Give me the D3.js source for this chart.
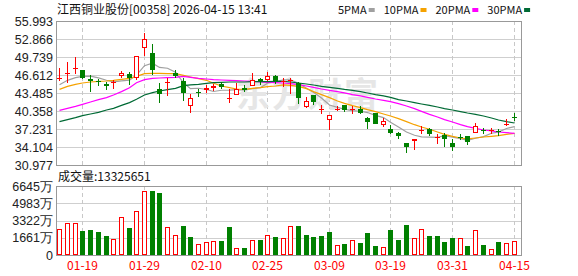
<!DOCTYPE html>
<html>
<head>
<meta charset="utf-8">
<script src="https://cdn.jsdelivr.net/npm/d3@7"></script>
<style>
  body { margin: 0; background: #fff; }
</style>
</head>
<body>
<div id="chart"></div>
<script>
// ---- data ----
const dates = [
  "01-14","01-15","01-16","01-19","01-20","01-21","01-22","01-23","01-26","01-27",
  "01-28","01-29","01-30","02-02","02-03","02-04","02-05","02-06","02-09","02-10",
  "02-11","02-12","02-13","02-19","02-20","02-23","02-24","02-25","02-26","02-27",
  "03-02","03-03","03-04","03-05","03-06","03-09","03-10","03-11","03-12","03-13",
  "03-16","03-17","03-18","03-19","03-20","03-23","03-24","03-25","03-26","03-27",
  "03-30","03-31","04-01","04-02","04-07","04-08","04-09","04-10","04-14","04-15"
];
const tickDates = ["01-19","01-29","02-10","02-25","03-09","03-19","03-31","04-15"];

const opens = [
  46.05,46.85,47.70,47.48,45.92,45.57,45.11,45.16,46.38,46.79,
  46.03,51.24,50.43,44.12,45.16,47.02,45.57,41.17,43.72,44.07,
  44.41,45.11,42.39,43.08,44.36,44.64,45.92,45.80,46.44,45.45,
  45.63,45.28,41.11,43.14,40.60,38.74,40.57,41.34,40.47,40.65,
  39.20,39.95,37.93,37.29,36.59,34.80,35.15,37.06,37.17,35.80,
  36.25,34.80,35.90,36.02,36.48,36.98,36.90,36.92,37.93,39.40
];
const highs = [
  47.77,48.87,49.74,47.55,46.61,45.92,45.34,45.69,47.31,47.19,
  49.90,53.91,51.99,45.28,46.03,47.48,46.03,43.25,44.12,44.88,
  45.11,45.45,44.12,45.28,44.88,46.90,46.15,47.08,46.61,46.03,
  46.03,45.40,42.73,43.20,41.34,39.65,41.23,41.40,41.23,41.23,
  39.37,40.07,39.09,37.87,36.77,34.80,35.55,37.69,37.46,36.31,
  36.48,35.55,36.31,36.02,38.27,37.35,37.40,37.29,38.91,39.95
];
const lows = [
  45.57,45.28,46.73,45.86,43.72,44.64,43.95,44.24,46.15,44.88,
  45.69,49.91,46.55,41.81,42.96,46.15,42.10,40.07,42.85,43.54,
  43.83,44.12,41.81,43.08,43.72,44.64,44.88,45.51,44.99,44.53,
  43.25,41.63,40.94,41.40,39.90,37.06,40.36,40.24,39.78,39.90,
  37.29,38.16,37.58,36.42,35.55,33.12,33.64,36.42,36.02,34.68,
  34.10,33.41,35.26,34.39,36.48,36.31,36.31,35.96,37.69,38.62
];
const closes = [
  46.15,46.92,47.78,46.03,45.57,45.40,44.64,45.40,46.96,46.15,
  49.85,52.81,47.48,43.37,45.40,46.38,43.54,42.56,43.66,44.30,
  44.70,44.59,42.62,44.12,44.01,45.80,45.57,46.38,45.57,45.60,
  45.72,42.68,42.10,41.92,40.65,39.60,40.66,40.47,40.76,40.07,
  38.51,38.16,38.62,36.59,36.02,34.10,35.44,37.12,36.42,35.88,
  35.55,34.10,35.83,34.97,37.69,36.94,37.00,36.88,38.10,39.30
];
const prevClose0 = 45.60;

// volume in 万 shares
const volumes = [
  2475,3080,3080,2310,2410,2215,1830,1510,3630,2600,
  4210,6135,6165,5970,2670,1900,2790,1735,1030,1250,
  1320,1350,2700,645,675,1415,1445,1900,1735,1610,
  2765,2790,1925,1735,1830,2215,935,1060,1415,1155,
  2120,865,740,2410,1445,2890,1610,2475,1830,1830,
  1250,1640,1610,865,2380,935,550,1250,1155,1333
];

const ma5 = [
  44.93,45.69,46.15,46.38,46.40,46.10,45.70,45.41,45.59,45.71,
  46.60,48.23,48.65,47.93,47.78,47.09,45.23,44.25,44.31,44.09,
  43.75,43.96,43.97,44.07,44.01,44.23,44.42,45.18,45.47,45.78,
  45.77,45.19,44.33,43.60,42.61,41.39,40.99,40.66,40.43,40.31,
  40.09,39.59,39.22,38.39,37.58,36.70,36.15,35.85,35.82,35.79,
  36.08,35.81,35.56,35.27,35.63,35.91,36.49,36.70,37.32,37.64
];
const ma10 = [
  44.12,44.64,44.99,45.22,45.40,45.51,45.57,45.69,45.86,46.03,
  46.38,46.84,46.90,46.90,46.84,46.84,46.55,46.27,45.98,45.69,
  45.17,44.70,44.41,44.18,44.12,44.30,44.41,44.59,44.70,44.88,
  44.82,44.64,44.24,43.72,43.20,42.68,42.10,41.69,41.29,40.94,
  40.59,40.24,39.84,39.49,39.03,38.51,37.98,37.58,37.18,36.71,
  36.31,35.96,35.67,35.50,35.67,35.84,35.96,36.08,36.31,36.48
];
const ma20 = [
  40.47,40.82,41.17,41.52,41.92,42.33,42.68,43.14,43.72,44.41,
  45.28,45.80,46.03,46.09,46.15,46.21,46.38,46.21,46.03,45.92,
  45.80,45.74,45.69,45.63,45.57,45.51,45.40,45.34,45.28,45.22,
  45.11,44.93,44.70,44.47,44.18,43.95,43.72,43.50,43.20,42.97,
  42.73,42.44,42.21,41.98,41.63,41.23,40.76,40.30,39.78,39.32,
  38.85,38.45,37.99,37.64,37.35,37.06,36.89,36.71,36.59,36.48
];
const ma30 = [
  38.51,38.85,39.20,39.55,39.84,40.13,40.53,40.82,41.34,41.81,
  42.39,43.14,43.54,43.83,44.07,44.30,44.76,44.88,44.99,45.17,
  45.28,45.34,45.40,45.40,45.40,45.45,45.45,45.45,45.51,45.51,
  45.40,45.22,45.05,44.88,44.64,44.47,44.30,44.12,43.95,43.72,
  43.49,43.20,42.97,42.73,42.33,42.10,41.81,41.58,41.34,41.05,
  40.76,40.53,40.24,40.01,39.78,39.49,39.14,38.80,38.51,38.27
];

const priceTicks = ["55.993","52.866","49.739","46.612","43.485","40.358","37.231","34.104","30.977"];
const volTicks = [6645, 4983, 3322, 1661, 0];

const title = "江西铜业股份[00358] 2026-04-15 13:41";
const volTitle = "成交量:13325651";
const maNames = ["5PMA", "10PMA", "20PMA", "30PMA"];
const maColors = ["#a0a0a0", "#f5a200", "#ff00ff", "#006a35"];

// ---- layout ----
const width = 578, height = 276;
const left = 56, right = 522;
const pTop = 21, pBot = 165, vTop = 186, vBot = 255;
const RED = "#ff0000", GREEN = "#008000";
const cjk = "'Noto Sans CJK SC', sans-serif";
const latin = "'Liberation Sans', Arial, sans-serif";

const svg = d3.select("#chart").append("svg")
  .attr("width", width).attr("height", height)
  .style("display", "block")
  .style("background", "#fff");

const x = d3.scaleBand().domain(dates).range([56, 518])
  .paddingInner(0.35).paddingOuter(0.175);
const bw = Math.round(x.bandwidth());
const bx = d => Math.round(x(d));
const cx = d => bx(d) + Math.floor(bw / 2) + 0.5;

const y = d3.scaleLinear()
  .domain([+priceTicks[priceTicks.length - 1], +priceTicks[0]])
  .range([pBot, pTop]);
const yv = d3.scaleLinear().domain([0, volTicks[0]]).range([vBot, vTop]);

const py = v => Math.round(y(v));

// ---- grid ----
const grid = svg.append("g");
grid.selectAll("line.hp").data(priceTicks.slice(1, -1)).join("line")
  .attr("x1", left).attr("x2", right)
  .attr("y1", d => Math.round(y(+d)) + 0.5).attr("y2", d => Math.round(y(+d)) + 0.5)
  .attr("stroke", "#cfcfcf");
grid.selectAll("line.hv").data(volTicks.slice(1, -1)).join("line")
  .attr("x1", left).attr("x2", right)
  .attr("y1", d => Math.round(yv(d)) + 0.5).attr("y2", d => Math.round(yv(d)) + 0.5)
  .attr("stroke", "#cfcfcf");
[[pTop, pBot], [vTop, vBot]].forEach(([t, b]) => {
  grid.append("g").selectAll("line").data(tickDates).join("line")
    .attr("x1", cx).attr("x2", cx)
    .attr("y1", t).attr("y2", b)
    .attr("stroke", "#c8c8c8")
    .attr("stroke-dasharray", "4,3");
});

// watermark
svg.append("text")
  .attr("x", 236).attr("y", 107)
  .style("font", "bold 34px " + cjk)
  .attr("fill", "#e6e6e6")
  .attr("letter-spacing", "2")
  .text("东方财富");

// ---- moving averages ----
const maSeries = [ma5, ma10, ma20, ma30];
const line = d3.line().x((d, i) => cx(dates[i])).y(d => y(d));
svg.append("g").selectAll("path").data(maSeries).join("path")
  .attr("d", line)
  .attr("fill", "none")
  .attr("stroke", (d, i) => maColors[i])
  .attr("stroke-width", 1.2);

// ---- candles ----
const candles = svg.append("g").selectAll("g").data(dates).join("g");
const up = i => closes[i] > opens[i] || (closes[i] === opens[i] && closes[i] >= (i ? closes[i - 1] : prevClose0));

candles.append("line")
  .attr("x1", d => cx(d)).attr("x2", d => cx(d))
  .attr("y1", (d, i) => py(highs[i])).attr("y2", (d, i) => py(lows[i]))
  .attr("stroke", (d, i) => up(i) ? RED : GREEN);

candles.append("rect")
  .each(function(d, i) {
    const top = py(Math.max(opens[i], closes[i]));
    const bot = py(Math.min(opens[i], closes[i]));
    const h = bot - top;
    const sel = d3.select(this);
    if (up(i) && h >= 2) {
      sel.attr("x", bx(d) + 0.5).attr("y", top + 0.5)
        .attr("width", bw - 1).attr("height", h - 1)
        .attr("fill", "#fff").attr("stroke", RED);
    } else {
      sel.attr("x", bx(d)).attr("y", top)
        .attr("width", bw).attr("height", Math.max(h, 1))
        .attr("fill", up(i) ? RED : GREEN);
    }
  });

// ---- volume ----
const volUp = i => closes[i] >= (i ? closes[i - 1] : prevClose0);
svg.append("g").selectAll("rect").data(dates).join("rect")
  .each(function(d, i) {
    const top = Math.round(yv(volumes[i]));
    const sel = d3.select(this);
    if (volUp(i)) {
      sel.attr("x", bx(d) + 0.5).attr("y", top + 0.5)
        .attr("width", bw - 1).attr("height", vBot - top - 1)
        .attr("fill", "#fff").attr("stroke", RED);
    } else {
      sel.attr("x", bx(d)).attr("y", top)
        .attr("width", bw).attr("height", vBot - top)
        .attr("fill", GREEN);
    }
  });

// ---- frames ----
[[pTop, pBot], [vTop, vBot]].forEach(([t, b]) => {
  svg.append("rect")
    .attr("x", left + 0.5).attr("y", t + 0.5)
    .attr("width", right - left - 1).attr("height", b - t)
    .attr("fill", "none").attr("stroke", "#999");
});

// ---- axes labels ----
svg.append("g").selectAll("text").data(priceTicks).join("text")
  .attr("x", 53).attr("y", d => y(+d))
  .attr("dy", "0.36em")
  .attr("text-anchor", "end")
  .style("font", "12.5px " + latin)
  .attr("fill", "#222")
  .text(d => d);

svg.append("g").selectAll("text").data(volTicks).join("text")
  .attr("x", 53).attr("y", d => yv(d))
  .attr("dy", "0.36em")
  .attr("text-anchor", "end")
  .style("font", "12.5px " + latin)
  .attr("fill", "#222")
  .text(d => d === 0 ? "0" : d + "万");

svg.append("g").selectAll("text").data(tickDates).join("text")
  .attr("x", cx).attr("y", 270)
  .attr("text-anchor", "middle")
  .style("font", "12px " + cjk)
  .attr("fill", RED)
  .text(d => d);

// ---- titles and legend ----
svg.append("text")
  .attr("x", 57).attr("y", 14)
  .style("font", "12px " + cjk)
  .attr("fill", "#111")
  .text(title);

svg.append("text")
  .attr("x", 58).attr("y", 181)
  .style("font", "12px " + cjk)
  .attr("fill", "#111")
  .text(volTitle);

const legend = svg.append("g");
let lx = 338;
maNames.forEach((name, i) => {
  const t = legend.append("text")
    .attr("x", lx).attr("y", 14)
    .style("font", "11px " + cjk)
    .attr("fill", "#111")
    .text(name);
  lx += t.node().getComputedTextLength() + 2;
  legend.append("rect")
    .attr("x", lx).attr("y", 8)
    .attr("width", 6).attr("height", 4)
    .attr("fill", maColors[i]);
  lx += 6 + 9;
});
</script>
</body>
</html>
